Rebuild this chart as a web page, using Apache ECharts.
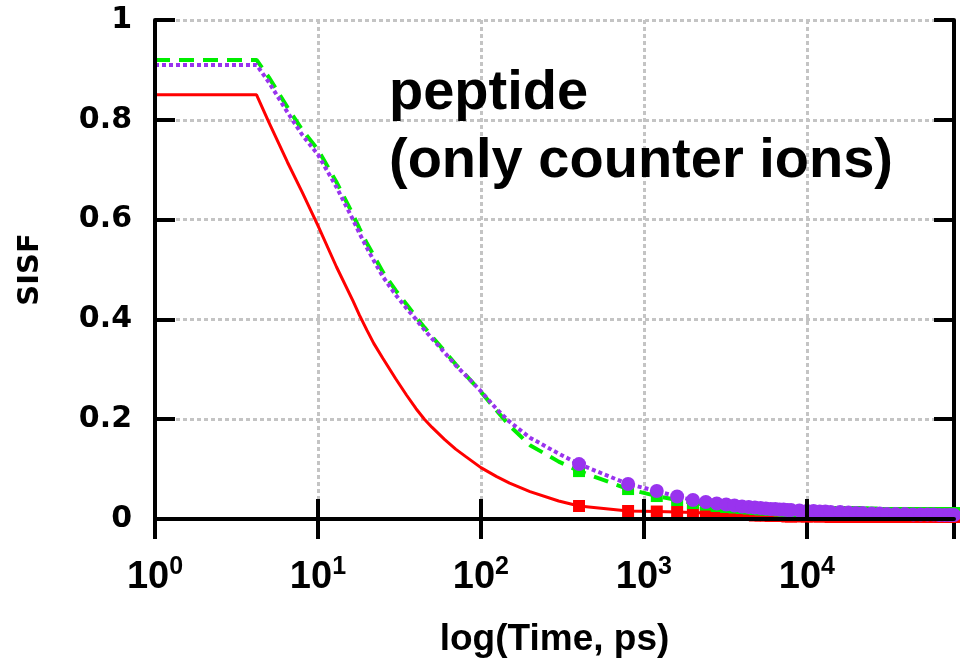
<!DOCTYPE html>
<html><head><meta charset="utf-8">
<script src="https://cdn.jsdelivr.net/npm/echarts@6/dist/echarts.min.js"></script>
<style>html,body{margin:0;padding:0;background:#fff}#c{width:960px;height:661px}</style>
</head><body><div id="c"></div>
<script>
// ---- data ----
const curveTimes = [1, 4.2, 5, 6.5, 8, 10, 13, 16.4, 18, 20, 22, 25, 30, 35, 40, 45, 50, 60, 70, 80, 100, 125, 150, 200, 300];
const redCurve    = [0.85, 0.85, 0.795, 0.715, 0.655, 0.588, 0.505, 0.437, 0.408, 0.378, 0.352, 0.322, 0.281, 0.248, 0.221, 0.2, 0.184, 0.159, 0.14, 0.126, 0.103, 0.085, 0.072, 0.055, 0.036];
const greenCurve  = [0.92, 0.92, 0.885, 0.825, 0.78, 0.74, 0.675, 0.61, 0.582, 0.552, 0.528, 0.495, 0.458, 0.43, 0.405, 0.384, 0.366, 0.336, 0.31, 0.29, 0.255, 0.217, 0.187, 0.148, 0.115];
const purpleCurve = [0.91, 0.91, 0.875, 0.815, 0.77, 0.73, 0.665, 0.6, 0.572, 0.543, 0.518, 0.486, 0.449, 0.422, 0.4, 0.379, 0.362, 0.333, 0.308, 0.289, 0.256, 0.22, 0.195, 0.163, 0.131];

const markTimes = [400, 800, 1200, 1600, 2000, 2400, 2800, 3200, 3600, 4000, 4400, 4800, 5200, 5600, 6000, 6400, 6800, 7200, 7600, 8000,
  9000, 10000, 11000, 12000, 13000, 14000, 16000, 18000, 20000, 22000, 25000, 28000, 31000, 35000, 40000, 45000, 50000, 55000, 60000, 65000, 70000, 75000, 80000];
const redMarks = [0.026, 0.016, 0.015, 0.014, 0.013, 0.012, 0.011, 0.010, 0.009, 0.008, 0.008, 0.007, 0.007, 0.007, 0.006, 0.006, 0.006, 0.006, 0.005, 0.005,
  0.005, 0.005, 0.005, 0.005, 0.005, 0.004, 0.004, 0.004, 0.004, 0.004, 0.004, 0.004, 0.004, 0.004, 0.004, 0.004, 0.004, 0.004, 0.004, 0.004, 0.004, 0.004, 0.004];
const greenMarks = [0.096, 0.06, 0.046, 0.038, 0.032, 0.029, 0.026, 0.024, 0.023, 0.022, 0.021, 0.020, 0.019, 0.019, 0.018, 0.018, 0.017, 0.017, 0.017, 0.016,
  0.016, 0.015, 0.015, 0.015, 0.014, 0.014, 0.014, 0.013, 0.014, 0.013, 0.013, 0.012, 0.012, 0.012, 0.012, 0.012, 0.012, 0.012, 0.012, 0.012, 0.012, 0.012, 0.012];
const purpleMarks = [0.11, 0.07, 0.056, 0.045, 0.038, 0.034, 0.031, 0.029, 0.027, 0.025, 0.024, 0.023, 0.022, 0.021, 0.020, 0.020, 0.019, 0.019, 0.018, 0.018,
  0.017, 0.016, 0.016, 0.015, 0.015, 0.014, 0.014, 0.013, 0.012, 0.012, 0.011, 0.011, 0.010, 0.010, 0.010, 0.009, 0.009, 0.009, 0.009, 0.008, 0.008, 0.008, 0.008];

const xMin = 1, xMax = 80000;
const yTicks = [0, 0.2, 0.4, 0.6, 0.8, 1];
const titleText = 'peptide\n(only counter ions)';
const xName = 'log(Time, ps)';
const yName = 'SISF';

const RED = '#ff0000', GREEN = '#00ee00', PURPLE = '#9933ee';

function pairs(ts, vs) { return ts.map((t, i) => [t, vs[i]]); }
function lineData(vs, ms) { return pairs(curveTimes, vs).concat(pairs(markTimes, ms)); }

const chart = echarts.init(document.getElementById('c'), null, {renderer: 'canvas'});
const black = {color: '#000', width: 4};
const gridLine = {show: true, lineStyle: {color: '#c4c4c4', width: 3, type: [4, 3]}};
const tickStyle = {show: true, inside: true, length: 20, lineStyle: {color: '#000', width: 4}};

chart.setOption({
  animation: false,
  backgroundColor: '#fff',
  title: {
    text: titleText, left: 389, top: 60, padding: 0,
    textStyle: {fontFamily: 'Liberation Sans', fontWeight: 'bold', fontSize: 56, lineHeight: 68, color: '#000'}
  },
  grid: {left: 155, right: 6, top: 20, bottom: 142, containLabel: false, outerBoundsMode: 'none'},
  xAxis: [{
    type: 'log', logBase: 10, min: xMin, max: xMax, position: 'bottom', z: 10,
    axisLine: {show: true, lineStyle: black},
    axisTick: tickStyle, splitLine: {show: false}, minorTick: {show: false},
    axisLabel: {
      margin: 36, showMaxLabel: false,
      formatter: v => '{b|10}{s|' + Math.round(Math.log10(v)) + '}',
      rich: {
        b: {fontFamily: 'Liberation Sans', fontWeight: 'bold', fontSize: 38, color: '#000', verticalAlign: 'bottom', lineHeight: 42},
        s: {fontFamily: 'Liberation Sans', fontWeight: 'bold', fontSize: 25, color: '#000', verticalAlign: 'top', lineHeight: 24}
      }
    },
    name: xName, nameLocation: 'middle', nameGap: 102,
    nameTextStyle: {fontFamily: 'Liberation Sans', fontWeight: 'bold', fontSize: 37, color: '#000'}
  }, {
    type: 'log', logBase: 10, min: xMin, max: xMax, position: 'top', z: 0,
    axisLine: {show: true, lineStyle: black},
    axisTick: tickStyle, axisLabel: {show: false}, splitLine: gridLine
  }],
  yAxis: [{
    type: 'value', min: 0, max: 1, interval: 0.2, position: 'left', z: 10,
    axisLine: {show: true, lineStyle: black},
    axisTick: tickStyle, splitLine: {show: false},
    axisLabel: {
      margin: 23,
      formatter: v => (yTicks.indexOf(+v.toFixed(1)) >= 0 ? (v === 0 ? '0' : v === 1 ? '1' : v.toFixed(1)) : ''),
      fontFamily: 'DejaVu Sans', fontWeight: 'bold', fontSize: 30, color: '#000'
    },
    name: yName, nameLocation: 'middle', nameGap: 110, nameRotate: 90,
    nameTextStyle: {fontFamily: 'DejaVu Sans', fontWeight: 'bold', fontSize: 29, color: '#000'}
  }, {
    type: 'value', min: 0, max: 1, interval: 0.2, position: 'right', z: 0,
    axisLine: {show: true, lineStyle: black},
    axisTick: tickStyle, axisLabel: {show: false}, splitLine: gridLine
  }],
  series: [
    {type: 'line', data: lineData(redCurve, redMarks), showSymbol: false, symbol: 'none', smooth: false,
     lineStyle: {color: RED, width: 3}, z: 2},
    {type: 'scatter', data: pairs(markTimes, redMarks), symbol: 'rect', symbolSize: 12,
     itemStyle: {color: RED, opacity: 1}, z: 3},
    {type: 'line', data: lineData(greenCurve, greenMarks), showSymbol: false, symbol: 'none', smooth: false,
     lineStyle: {color: GREEN, width: 4, type: [15, 9]}, z: 4},
    {type: 'scatter', data: pairs(markTimes, greenMarks), symbol: 'rect', symbolSize: 12,
     itemStyle: {color: GREEN, opacity: 1}, z: 5},
    {type: 'line', data: lineData(purpleCurve, purpleMarks), showSymbol: false, symbol: 'none', smooth: false,
     lineStyle: {color: PURPLE, width: 4, type: [4, 3]}, z: 6},
    {type: 'scatter', data: pairs(markTimes, purpleMarks), symbol: 'circle', symbolSize: 14,
     itemStyle: {color: PURPLE, opacity: 1}, z: 7}
  ]
});
</script>
</body></html>
